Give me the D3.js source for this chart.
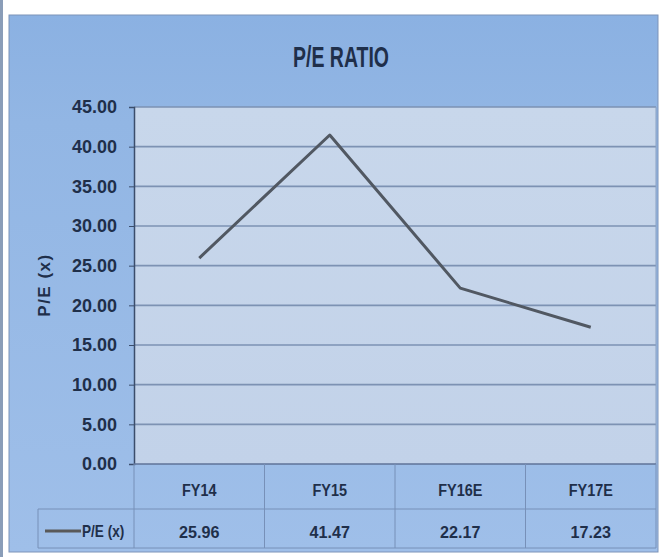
<!DOCTYPE html>
<html><head><meta charset="utf-8">
<script src="https://cdn.jsdelivr.net/npm/d3@7"></script>
<style>
html,body{margin:0;padding:0;background:#fff;}
svg{display:block;}
text{font-family:"Liberation Sans",Arial,sans-serif;font-weight:bold;fill:#1f2f4a;}
</style></head>
<body>
<script>
const categories = ["FY14", "FY15", "FY16E", "FY17E"];
const values = [25.96, 41.47, 22.17, 17.23];
const valueLabels = ["25.96", "41.47", "22.17", "17.23"];
const yTicks = [0, 5, 10, 15, 20, 25, 30, 35, 40, 45];
const seriesName = "P/E (x)";
const chartTitle = "P/E RATIO";
const yTitle = "P/E (x)";

(function(){
const W = 661, H = 557;
const svg = d3.select("body").append("svg").attr("width", W).attr("height", H);
const defs = svg.append("defs");

const bg = defs.append("linearGradient").attr("id","bg").attr("x1",0).attr("y1",0).attr("x2",0).attr("y2",1);
bg.append("stop").attr("offset","0").attr("stop-color","#8bb1e2");
bg.append("stop").attr("offset","0.2").attr("stop-color","#92b6e4");
bg.append("stop").attr("offset","1").attr("stop-color","#9fbfe9");

const pf = defs.append("linearGradient").attr("id","pf").attr("x1",0).attr("y1",0).attr("x2",0).attr("y2",1);
pf.append("stop").attr("offset","0").attr("stop-color","#c8d7eb");
pf.append("stop").attr("offset","1").attr("stop-color","#c2d2e9");

svg.append("rect").attr("x",0).attr("y",0).attr("width",3).attr("height",H).attr("fill","#8a9db8");
svg.append("rect").attr("x",9).attr("y",15).attr("width",649).attr("height",537)
  .attr("fill","url(#bg)").attr("stroke","#7d93b8").attr("stroke-width",1);

const pLeft = 134, pRight = 656, pTop = 107, pBottom = 464;
const x = d3.scaleBand().domain(categories).range([pLeft, pRight]).padding(0);
const y = d3.scaleLinear().domain([0, 45]).range([pBottom, pTop]);

svg.append("rect").attr("x",pLeft).attr("y",pTop).attr("width",pRight-pLeft).attr("height",pBottom-pTop)
  .attr("fill","url(#pf)");

svg.append("g").selectAll("line").data(yTicks.filter(d=>d>0)).join("line")
  .attr("x1",pLeft).attr("x2",pRight).attr("y1",d=>y(d)).attr("y2",d=>y(d))
  .attr("stroke","#7d92b3").attr("stroke-width",1.6);
svg.append("line").attr("x1",pRight).attr("x2",pRight).attr("y1",pTop).attr("y2",pBottom)
  .attr("stroke","#8aa0c0").attr("stroke-width",1);

const yAxis = d3.axisLeft(y).tickValues(yTicks).tickFormat(d3.format(".2f")).tickSize(5).tickPadding(12);
const ya = svg.append("g").attr("transform",`translate(${pLeft},0)`).call(yAxis);
ya.select(".domain").attr("stroke","#3b4d6b").attr("stroke-width",1.5);
ya.selectAll(".tick line").attr("stroke","#3b4d6b");
ya.selectAll("text").attr("font-size",18).attr("fill","#1d2d4a")
  .style("font-family",'"Liberation Sans",Arial,sans-serif').style("font-weight","bold");

function ctext(g, x0, y0, sx, size, anchor, str){
  return g.append("text").attr("transform",`translate(${x0},${y0}) scale(${sx},1)`)
    .attr("text-anchor",anchor).attr("font-size",size).text(str);
}

svg.append("text").attr("transform","translate(50,285) rotate(-90)")
  .attr("text-anchor","middle").attr("font-size",17).attr("letter-spacing",1.5).text(yTitle);

ctext(svg, 341, 67, 0.65, 30, "middle", chartTitle).attr("fill","#1a2740");

const rowMid = 509, tBottom = 548, tLeft = 38;
const tl = "#7790b8";
svg.append("line").attr("x1",pLeft).attr("x2",pRight).attr("y1",pBottom).attr("y2",pBottom).attr("stroke","#5f7398").attr("stroke-width",1.5);
svg.append("line").attr("x1",tLeft).attr("x2",pRight).attr("y1",rowMid).attr("y2",rowMid).attr("stroke",tl);
svg.append("line").attr("x1",tLeft).attr("x2",pRight).attr("y1",tBottom).attr("y2",tBottom).attr("stroke",tl);
svg.append("line").attr("x1",tLeft).attr("x2",tLeft).attr("y1",rowMid).attr("y2",tBottom).attr("stroke",tl);
svg.append("line").attr("x1",pLeft).attr("x2",pLeft).attr("y1",pBottom).attr("y2",tBottom).attr("stroke",tl);
svg.append("g").selectAll("line").data(categories).join("line")
  .attr("x1",d=>x(d)+x.bandwidth()).attr("x2",d=>x(d)+x.bandwidth())
  .attr("y1",pBottom).attr("y2",tBottom).attr("stroke",tl);

const catG = svg.append("g");
categories.forEach(c => ctext(catG, x(c)+x.bandwidth()/2, 496, 0.85, 17, "middle", c));
const valG = svg.append("g");
valueLabels.forEach((v,i) => ctext(valG, x(categories[i])+x.bandwidth()/2, 538, 0.95, 17, "middle", v));

svg.append("line").attr("x1",45).attr("x2",81).attr("y1",531).attr("y2",531)
  .attr("stroke","#595959").attr("stroke-width",3);
ctext(svg, 82, 537, 0.85, 16, "start", seriesName);

const line = d3.line().x((d,i)=>x(categories[i])+x.bandwidth()/2).y(d=>y(d));
svg.append("path").datum(values).attr("d",line).attr("fill","none")
  .attr("stroke","#515862").attr("stroke-width",3).attr("stroke-linejoin","round");
})();
</script>
</body></html>
